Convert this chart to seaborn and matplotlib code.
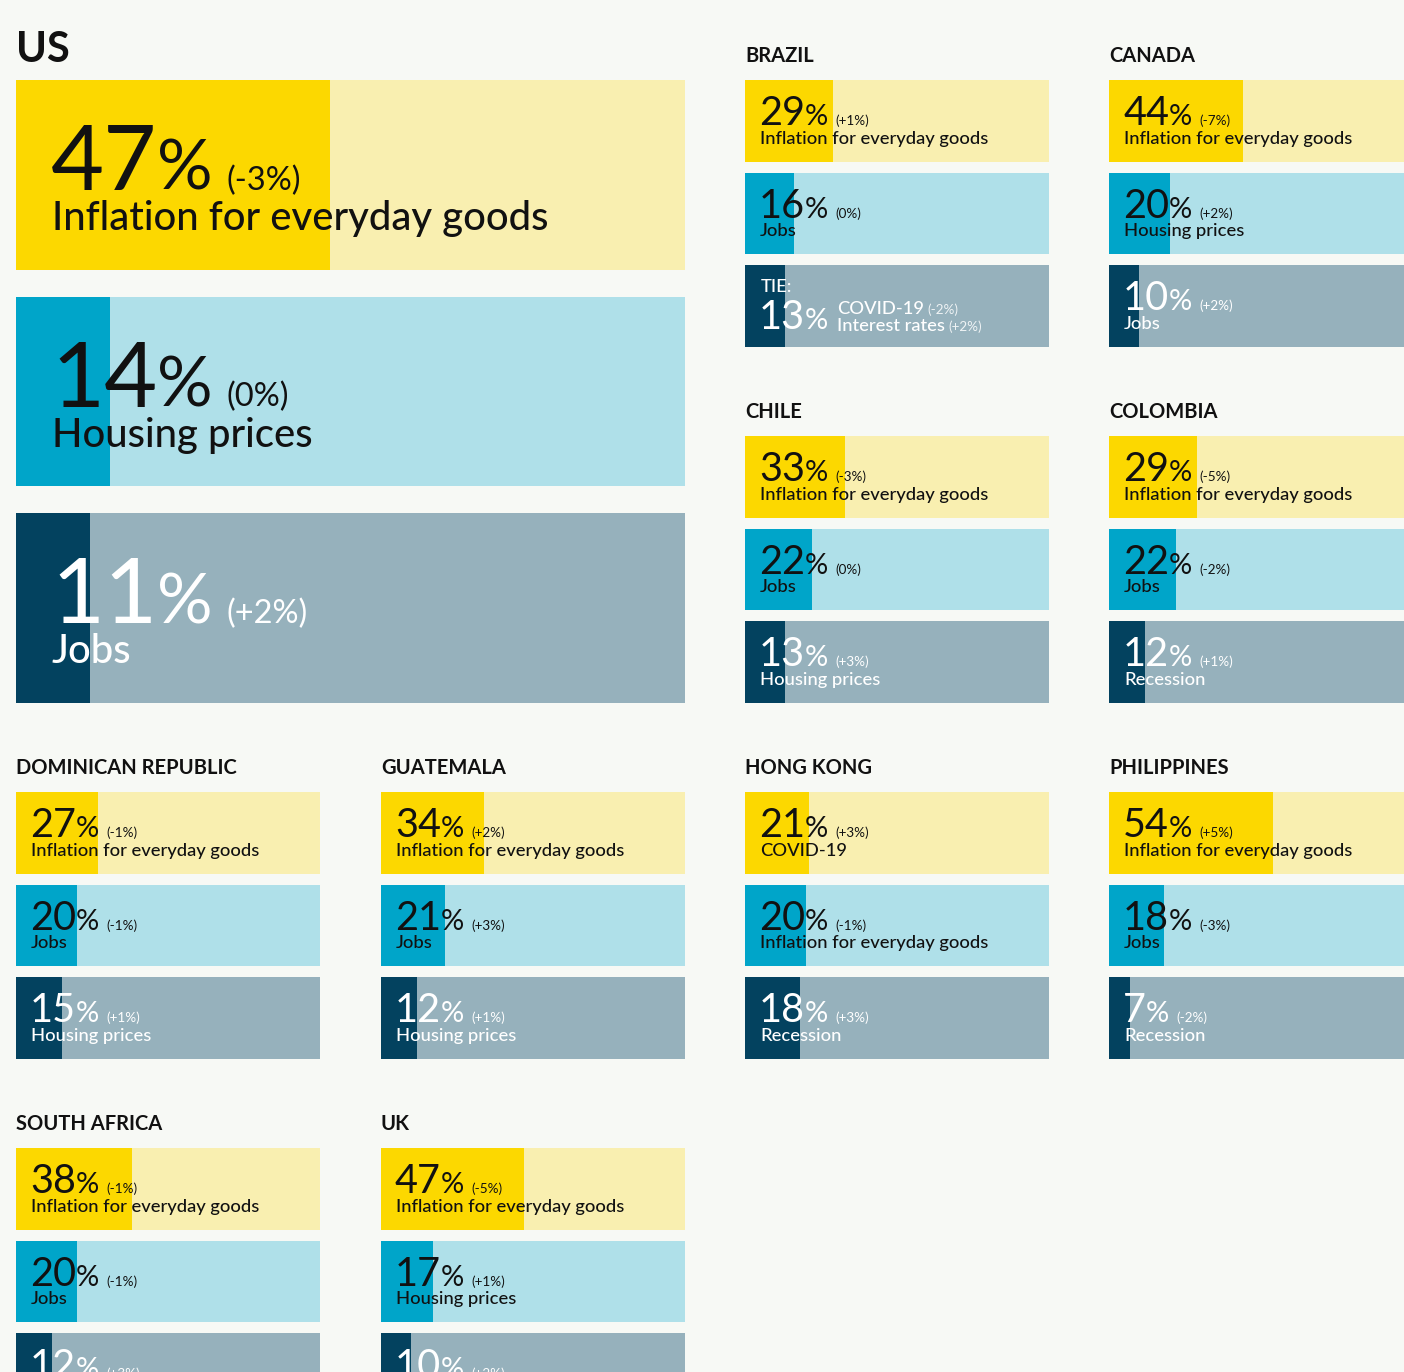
import pandas as pd
import seaborn as sns
import matplotlib.pyplot as plt

# survey results: top three concerns per market, share of respondents
countries = ["US", "BRAZIL", "CANADA", "CHILE", "COLOMBIA", "DOMINICAN REPUBLIC",
             "GUATEMALA", "HONG KONG", "PHILIPPINES", "SOUTH AFRICA", "UK"]
values_1 = [47, 29, 44, 33, 29, 27, 34, 21, 54, 38, 47]
values_2 = [14, 16, 20, 22, 22, 20, 21, 20, 18, 20, 17]
values_3 = [11, 13, 10, 13, 12, 15, 12, 18, 7, 12, 10]
changes_1 = ["-3%", "+1%", "-7%", "-3%", "-5%", "-1%", "+2%", "+3%", "+5%", "-1%", "-5%"]
changes_2 = ["0%", "0%", "+2%", "0%", "-2%", "-1%", "+3%", "-1%", "-3%", "-1%", "+1%"]
changes_3 = ["+2%", None, "+2%", "+3%", "+1%", "+1%", "+1%", "+3%", "-2%", "+3%", "+2%"]
labels_1 = ["Inflation for everyday goods"] * 7 + ["COVID-19"] + ["Inflation for everyday goods"] * 3
labels_2 = ["Housing prices", "Jobs", "Housing prices", "Jobs", "Jobs", "Jobs", "Jobs",
            "Inflation for everyday goods", "Jobs", "Jobs", "Housing prices"]
labels_3 = ["Jobs", None, "Jobs", "Housing prices", "Recession", "Housing prices",
            "Housing prices", "Recession", "Recession", "Housing prices", "Jobs"]
tie_labels = ["COVID-19", "Interest rates"]
tie_changes = ["-2%", "+2%"]

BG = "#F7F9F5"
FG_COLORS = ["#FCD800", "#00A5C9", "#03425F"]
BG_COLORS = ["#F9EFB0", "#AFE0E9", "#96B1BC"]
TXT_COLORS = ["#111111", "#111111", "#FFFFFF"]
FONT = "Lato"

W, H = 1404, 1372
plt.rcParams["font.family"] = [FONT, "DejaVu Sans"]
fig = plt.figure(figsize=(W / 100, H / 100), dpi=100)
fig.patch.set_facecolor(BG)

BIG = dict(w=0.877, num=66, pct=50, chg=23.5, lab=28.8, title=30,
           num_y=0.579, lab_y=0.79, pad=36, gap=14, title_pad=18)
SMALL = dict(w=0.886, num=28.5, pct=21, chg=9.7, lab=13.2, title=14.5,
             num_y=0.55, lab_y=0.78, pad=15, gap=7, title_pad=18)

ORDER = ["0", "1", "2"]


def draw_panel(box, st, name, vals, changes, labels):
    left, top, width, height = box
    ax = fig.add_axes([left / W, 1 - (top + height) / H, width / W, height / H])
    df = pd.DataFrame({"rank": ORDER, "value": vals, "full": [100] * 3})
    for col, pal in (("full", BG_COLORS), ("value", FG_COLORS)):
        sns.barplot(data=df, x=col, y="rank", hue="rank", order=ORDER, hue_order=ORDER,
                    palette=pal, orient="h", width=st["w"], saturation=1,
                    linewidth=0, legend=False, ax=ax)
    w = st["w"]
    ax.set_xlim(0, 100)
    ax.set_ylim(2 + w / 2, -w / 2)
    ax.axis("off")

    ax.annotate(name, xy=(0, 1), xycoords="axes fraction", xytext=(0, st["title_pad"]),
                textcoords="offset pixels", va="baseline", ha="left",
                fontsize=st["title"], fontweight="bold", color="#111111")

    for i in range(3):
        top_i = i - w / 2
        color = TXT_COLORS[i]
        y_num = top_i + st["num_y"] * w
        y_lab = top_i + st["lab_y"] * w
        tie = labels[i] is None
        if tie:
            y_num = y_lab
            ax.annotate("TIE:", xy=(0, top_i + 0.33 * w), xytext=(st["pad"] + 1, 0),
                        textcoords="offset pixels", va="baseline", fontsize=st["lab"],
                        fontweight="medium", color=color)
        num = ax.annotate(str(vals[i]), xy=(0, y_num), xytext=(st["pad"] - 1, 0),
                          textcoords="offset pixels", va="baseline",
                          fontsize=st["num"], color=color)
        pct = ax.annotate("%", xy=(1, y_num), xycoords=(num, ax.transData),
                          xytext=(0, 0), textcoords="offset pixels", va="baseline",
                          fontsize=st["pct"], color=color)
        if tie:
            for k, (lab, ch) in enumerate(zip(tie_labels, tie_changes)):
                y_t = top_i + (0.6 if k == 0 else 0.805) * w
                t = ax.annotate(lab, xy=(1, y_t), xycoords=(pct, ax.transData),
                                xytext=(9, 0), textcoords="offset pixels",
                                va="baseline", fontsize=st["lab"], fontweight="medium",
                                color=color)
                ax.annotate(f"({ch})", xy=(1, y_t), xycoords=(t, ax.transData),
                            xytext=(3, 0), textcoords="offset pixels", va="baseline",
                            fontsize=st["chg"], color=color, alpha=0.85)
            continue
        ax.annotate(f"({changes[i]})", xy=(1, y_num), xycoords=(pct, ax.transData),
                    xytext=(st["gap"], 0), textcoords="offset pixels", va="baseline",
                    fontsize=st["chg"], color=color)
        ax.annotate(labels[i], xy=(0, y_lab), xytext=(st["pad"], 0),
                    textcoords="offset pixels", va="baseline", fontweight="medium",
                    fontsize=st["lab"], color=color)


# panel boxes in pixels: left, top, width, height
col_x = [16, 381, 745, 1109]
row_y = [80, 436, 792, 1148]
slots = [(2, 0), (3, 0), (2, 1), (3, 1), (0, 2), (1, 2), (2, 2), (3, 2), (0, 3), (1, 3)]

for idx, name in enumerate(countries):
    vals = [values_1[idx], values_2[idx], values_3[idx]]
    chg = [changes_1[idx], changes_2[idx], changes_3[idx]]
    labs = [labels_1[idx], labels_2[idx], labels_3[idx]]
    if idx == 0:
        draw_panel((16, 80, 669, 623), BIG, name, vals, chg, labs)
    else:
        c, r = slots[idx - 1]
        draw_panel((col_x[c], row_y[r], 304, 267), SMALL, name, vals, chg, labs)

fig.savefig("out.png", dpi=100, facecolor=BG)
